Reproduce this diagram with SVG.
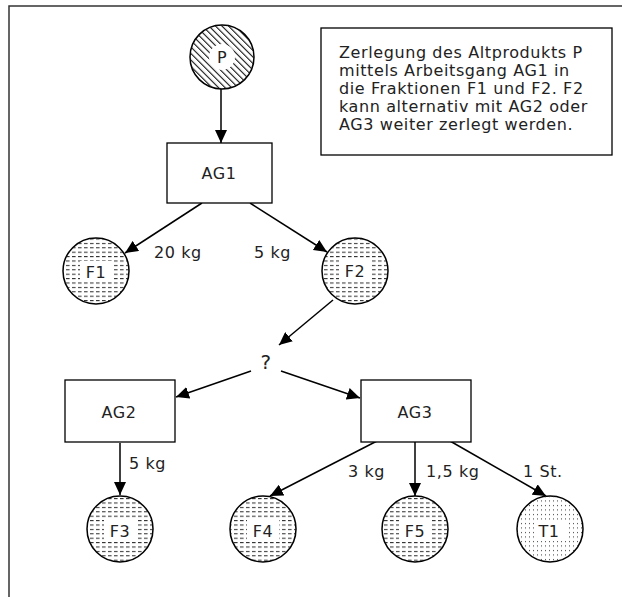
<svg xmlns="http://www.w3.org/2000/svg" width="622" height="597" viewBox="0 0 622 597">
<defs>
<pattern id="hatch" patternUnits="userSpaceOnUse" width="4.6" height="4.6" patternTransform="rotate(-45)">
<rect x="0" y="0" width="1.1" height="4.6" fill="#111"/>
</pattern>
<pattern id="dash" patternUnits="userSpaceOnUse" width="6" height="4.4">
<rect x="0" y="1" width="3.6" height="0.9" fill="#111"/>
</pattern>
<pattern id="dots" patternUnits="userSpaceOnUse" width="4" height="4.5">
<rect x="1" y="1" width="1" height="1" fill="#333"/>
</pattern>
<marker id="arr" markerUnits="userSpaceOnUse" markerWidth="14" markerHeight="12" refX="13" refY="6" orient="auto">
<path d="M0,0 L13,6 L0,12 Z" fill="#000"/>
</marker>
</defs>
<style>
text{font-family:"DejaVu Sans","Liberation Sans",sans-serif;font-size:16px;letter-spacing:0.6px;fill:#222}
.c{text-anchor:middle}
.box{fill:#fff;stroke:#000;stroke-width:1.3}
.circ{stroke:#000;stroke-width:1.5}
.edge{stroke:#000;stroke-width:1.5;fill:none;marker-end:url(#arr)}
</style>
<rect width="622" height="597" fill="#fff"/>
<path d="M9,597 L9,6 L622,6" fill="none" stroke="#333" stroke-width="1.5"/>

<g id="connectors">
<line class="edge" x1="221" y1="89" x2="221" y2="143"/>
<line class="edge" x1="202" y1="203" x2="125" y2="253"/>
<line class="edge" x1="250" y1="203" x2="327" y2="252"/>
<line class="edge" x1="333" y1="300" x2="279" y2="345"/>
<line class="edge" x1="251" y1="371" x2="176" y2="397"/>
<line class="edge" x1="281" y1="371" x2="360" y2="398"/>
<line class="edge" x1="120" y1="443" x2="120" y2="495"/>
<line class="edge" x1="377" y1="441" x2="270" y2="496"/>
<line class="edge" x1="415" y1="441" x2="415" y2="496"/>
<line class="edge" x1="450" y1="441" x2="546" y2="496"/>
<text x="154" y="258">20 kg</text>
<text x="254" y="258">5 kg</text>
<text x="129" y="469">5 kg</text>
<text x="348" y="477">3 kg</text>
<text x="426" y="477">1,5 kg</text>
<text x="523" y="477">1 St.</text>
<text x="266" y="369" class="c" style="font-size:20px">?</text>
</g>

<g id="note">
<rect x="321" y="28" width="291" height="127" class="box"/>
<text x="339" y="58">Zerlegung des Altprodukts P</text>
<text x="339" y="76">mittels Arbeitsgang AG1 in</text>
<text x="339" y="94">die Fraktionen F1 und F2. F2</text>
<text x="339" y="112">kann alternativ mit AG2 oder</text>
<text x="339" y="130">AG3 weiter zerlegt werden.</text>
</g>

<g id="P">
<circle cx="222" cy="57" r="32" fill="#fff" class="circ"/>
<circle cx="222" cy="57" r="32" fill="url(#hatch)"/>
<circle cx="222" cy="57" r="13" fill="#fff"/>
<text x="222" y="63" class="c">P</text>
</g>
<g id="AG1">
<rect x="167" y="143" width="105" height="60" class="box"/>
<text x="219" y="179" class="c">AG1</text>
</g>
<g id="F1">
<circle cx="96" cy="271" r="33" fill="#fff" class="circ"/>
<circle cx="96" cy="271" r="33" fill="url(#dash)"/>
<rect x="80" y="261" width="32" height="21" fill="#fff"/>
<text x="96" y="278" class="c">F1</text>
</g>
<g id="F2">
<circle cx="355" cy="271" r="33" fill="#fff" class="circ"/>
<circle cx="355" cy="271" r="33" fill="url(#dash)"/>
<rect x="339" y="260" width="32" height="21" fill="#fff"/>
<text x="355" y="277" class="c">F2</text>
</g>
<g id="AG2">
<rect x="65" y="380" width="110" height="62" class="box"/>
<text x="119" y="418" class="c">AG2</text>
</g>
<g id="AG3">
<rect x="361" y="380" width="110" height="62" class="box"/>
<text x="415" y="418" class="c">AG3</text>
</g>
<g id="F3">
<circle cx="120" cy="529" r="33" fill="#fff" class="circ"/>
<circle cx="120" cy="529" r="33" fill="url(#dash)"/>
<rect x="104" y="520" width="32" height="21" fill="#fff"/>
<text x="120" y="537" class="c">F3</text>
</g>
<g id="F4">
<circle cx="263" cy="529" r="33" fill="#fff" class="circ"/>
<circle cx="263" cy="529" r="33" fill="url(#dash)"/>
<rect x="247" y="520" width="32" height="21" fill="#fff"/>
<text x="263" y="537" class="c">F4</text>
</g>
<g id="F5">
<circle cx="415" cy="529" r="33" fill="#fff" class="circ"/>
<circle cx="415" cy="529" r="33" fill="url(#dash)"/>
<rect x="399" y="520" width="32" height="21" fill="#fff"/>
<text x="415" y="537" class="c">F5</text>
</g>
<g id="T1">
<circle cx="550" cy="529" r="33" fill="#fff" class="circ"/>
<circle cx="550" cy="529" r="33" fill="url(#dots)"/>
<rect x="534" y="520" width="32" height="21" fill="#fff"/>
<text x="549" y="537" class="c">T1</text>
</g>
</svg>
